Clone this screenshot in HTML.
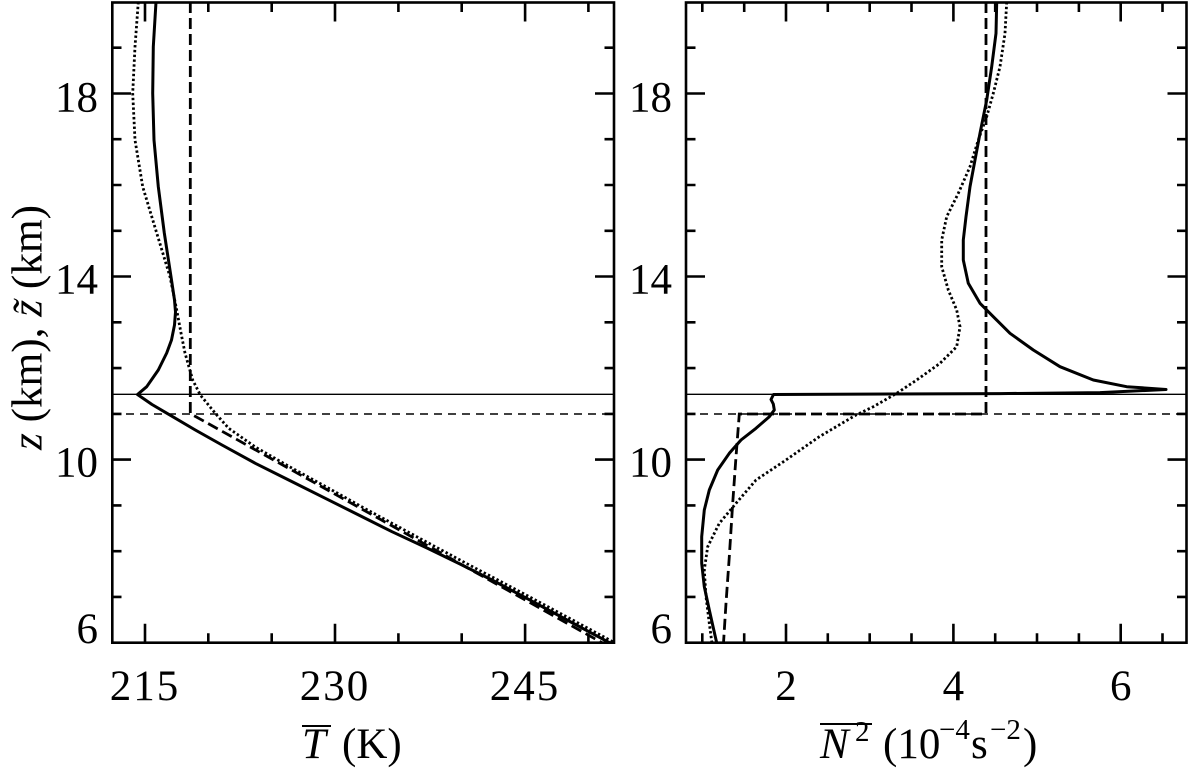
<!DOCTYPE html>
<html>
<head>
<meta charset="utf-8">
<style>
  html, body { margin: 0; padding: 0; background: #ffffff; }
  svg { display: block; }
  text { font-family: "Liberation Serif", "DejaVu Serif", serif; fill: #000; }
</style>
</head>
<body>
<svg width="1190" height="770" viewBox="0 0 1190 770" xmlns="http://www.w3.org/2000/svg">
  <rect x="0" y="0" width="1190" height="770" fill="#ffffff"/>
  <defs>
    <clipPath id="cl"><rect x="112" y="2.5" width="502" height="640.2"/></clipPath>
    <clipPath id="cr"><rect x="686" y="2.5" width="500.5" height="640.2"/></clipPath>
  </defs>

  <!-- ===== LEFT PANEL ===== -->
  <g clip-path="url(#cl)" fill="none" stroke="#000">
    <line x1="112" y1="394.3" x2="614" y2="394.3" stroke-width="1.4"/>
    <line x1="112" y1="414" x2="614" y2="414" stroke-width="1.5" stroke-dasharray="8 6"/>
    <path d="M190.3,2 L190.3,413.6 L602,642.7" stroke-width="2.8" stroke-dasharray="11 5"/>
    <path d="M138.3,2 L135,46.7 L132.7,93.3 L135,140 L142.7,186.7 L156.7,233 L170,276.7 L176.7,310 L181,333 L185,353 L192.7,380 L200.3,395 L215.3,413.3 L228.7,428.3 L255.3,447 L290,467 L330,489 L363,507.5 L420,538.5 L460,560 L527,595.5 L580,624 L616,643.5" stroke-width="2.8" stroke-dasharray="2.4 2.4"/>
    <path d="M156,2 L153.3,46.7 L152.7,93.3 L154,140 L158.3,186.7 L164.3,233 L171,276.7 L174.5,300 L175.5,312 L174.5,325 L171.5,340 L166.7,353 L158.3,370 L146.7,386.7 L137.5,394.5 L152,404.5 L167,413.3 L195.3,430 L222,445 L255.3,463.3 L288.7,480 L325.3,498.3 L358.7,515 L392,531.7 L427,548 L460,564 L493,580.5 L526.7,598.3 L568,620.5 L611,643.5" stroke-width="3" stroke-linejoin="round"/>
  </g>

  <g fill="none" stroke="#000" stroke-width="2.6">
    <rect x="112.3" y="2.5" width="501.7" height="640.2"/>
    <path d="M112,596.9h9.5 M112,551.2h9.5 M112,505.4h9.5 M112,459.6h19 M112,413.9h9.5 M112,368.1h9.5 M112,322.3h9.5 M112,276.5h19 M112,230.8h9.5 M112,185h9.5 M112,139.2h9.5 M112,93.5h19 M112,47.7h9.5"/>
    <path d="M614,596.9h-9.5 M614,551.2h-9.5 M614,505.4h-9.5 M614,459.6h-19 M614,413.9h-9.5 M614,368.1h-9.5 M614,322.3h-9.5 M614,276.5h-19 M614,230.8h-9.5 M614,185h-9.5 M614,139.2h-9.5 M614,93.5h-19 M614,47.7h-9.5"/>
    <path d="M145,642.7v-19 M208.3,642.7v-9.5 M271.7,642.7v-9.5 M335,642.7v-19 M398.4,642.7v-9.5 M461.7,642.7v-9.5 M525.1,642.7v-19 M588.4,642.7v-9.5"/>
    <path d="M145,2.5v19 M208.3,2.5v9.5 M271.7,2.5v9.5 M335,2.5v19 M398.4,2.5v9.5 M461.7,2.5v9.5 M525.1,2.5v19 M588.4,2.5v9.5"/>
  </g>

  <!-- ===== RIGHT PANEL ===== -->
  <g clip-path="url(#cr)" fill="none" stroke="#000">
    <line x1="686" y1="394.3" x2="1187" y2="394.3" stroke-width="1.4"/>
    <line x1="686" y1="414" x2="1187" y2="414" stroke-width="1.5" stroke-dasharray="8 6"/>
    <path d="M986,2 L986,414 L739.3,414 L736,456.7 L732.7,503.3 L729.3,556.7 L726,603.3 L723.5,643" stroke-width="2.8" stroke-dasharray="11 5"/>
    <path d="M1006.7,2 L1005,33.3 L1000,66.7 L993.3,93.3 L986.7,116.7 L978.3,140 L970,166.7 L958.3,193.3 L946.7,216.7 L941.7,240 L941.7,266.7 L948.3,290 L956.7,310 L960,326.7 L956.7,346.7 L940,363.3 L916.7,380 L896.7,393.3 L873.3,406.7 L856,415 L819.3,436.7 L786,460 L756,480 L736,503.3 L719.3,523.3 L707.7,546.7 L704.3,570 L706,596.7 L709.3,623.3 L712,643.5" stroke-width="2.8" stroke-dasharray="2.4 2.4"/>
    <path d="M996.7,2 L996,33.3 L991.7,66.7 L986.7,100 L980,133.3 L975,160 L970,186.7 L966,216.7 L963.3,240 L963.3,260 L968.3,283.3 L980,303.3 L993.3,316.7 L1010,333.3 L1033.3,350 L1060,366.7 L1093.3,380 L1126.7,386.7 L1166,389.5 L1100,392.6 L1000,393.6 L773.5,394.5 L771,399.5 L773.3,404 L774.3,410 L769.3,416.7 L756,428.3 L741,440 L729.3,453.3 L717.7,470 L709.3,490 L704.3,510 L701.7,536.7 L701.7,563.3 L704.3,586.7 L709.3,610 L715.3,636.7 L717,644" stroke-width="3" stroke-linejoin="round"/>
  </g>

  <g fill="none" stroke="#000" stroke-width="2.6">
    <rect x="686" y="2.5" width="500.5" height="640.2"/>
    <path d="M686,596.9h9.5 M686,551.2h9.5 M686,505.4h9.5 M686,459.6h19 M686,413.9h9.5 M686,368.1h9.5 M686,322.3h9.5 M686,276.5h19 M686,230.8h9.5 M686,185h9.5 M686,139.2h9.5 M686,93.5h19 M686,47.7h9.5"/>
    <path d="M1186.5,596.9h-9.5 M1186.5,551.2h-9.5 M1186.5,505.4h-9.5 M1186.5,459.6h-19 M1186.5,413.9h-9.5 M1186.5,368.1h-9.5 M1186.5,322.3h-9.5 M1186.5,276.5h-19 M1186.5,230.8h-9.5 M1186.5,185h-9.5 M1186.5,139.2h-9.5 M1186.5,93.5h-19 M1186.5,47.7h-9.5"/>
    <path d="M702.3,642.7v-9.5 M744.2,642.7v-9.5 M786,642.7v-19 M827.8,642.7v-9.5 M869.7,642.7v-9.5 M911.5,642.7v-9.5 M953.4,642.7v-19 M995.2,642.7v-9.5 M1037,642.7v-9.5 M1078.9,642.7v-9.5 M1120.7,642.7v-19 M1162.5,642.7v-9.5"/>
    <path d="M702.3,2.5v9.5 M744.2,2.5v9.5 M786,2.5v19 M827.8,2.5v9.5 M869.7,2.5v9.5 M911.5,2.5v9.5 M953.4,2.5v19 M995.2,2.5v9.5 M1037,2.5v9.5 M1078.9,2.5v9.5 M1120.7,2.5v19 M1162.5,2.5v9.5"/>
  </g>

  <!-- ===== TICK LABELS ===== -->
  <g font-size="43">
    <text x="98" y="111.5" text-anchor="end">18</text>
    <text x="98" y="293.5" text-anchor="end">14</text>
    <text x="98" y="476.5" text-anchor="end">10</text>
    <text x="98" y="643" text-anchor="end">6</text>
    <text x="672" y="111.5" text-anchor="end">18</text>
    <text x="672" y="293.5" text-anchor="end">14</text>
    <text x="672" y="476.5" text-anchor="end">10</text>
    <text x="672" y="643" text-anchor="end">6</text>
    <text x="145" y="700" text-anchor="middle" letter-spacing="2">215</text>
    <text x="335" y="700" text-anchor="middle" letter-spacing="2">230</text>
    <text x="525" y="700" text-anchor="middle" letter-spacing="2">245</text>
    <text x="786" y="700" text-anchor="middle">2</text>
    <text x="953.4" y="700" text-anchor="middle">4</text>
    <text x="1120.7" y="700" text-anchor="middle">6</text>
  </g>

  <!-- ===== AXIS TITLES ===== -->
  <text x="302" y="758" font-size="43" font-style="italic">T</text>
  <line x1="302" y1="726" x2="331" y2="726" stroke="#000" stroke-width="2"/>
  <text x="342" y="758" font-size="43">(K)</text>

  <text x="820" y="758" font-size="43" font-style="italic">N</text>
  <text x="855" y="741" font-size="29">2</text>
  <line x1="820" y1="724" x2="872" y2="724" stroke="#000" stroke-width="2"/>
  <text x="883" y="758" font-size="43">(10</text>
  <text x="939" y="739" font-size="29">−4</text>
  <text x="971" y="758" font-size="43">s</text>
  <text x="990" y="739" font-size="29">−2</text>
  <text x="1023" y="758" font-size="43">)</text>

  <text transform="translate(41.5,327.5) rotate(-90)" font-size="43" text-anchor="middle" textLength="245" lengthAdjust="spacingAndGlyphs"><tspan font-style="italic">z</tspan> (km), <tspan font-style="italic">z̃</tspan> (km)</text>
</svg>
</body>
</html>
